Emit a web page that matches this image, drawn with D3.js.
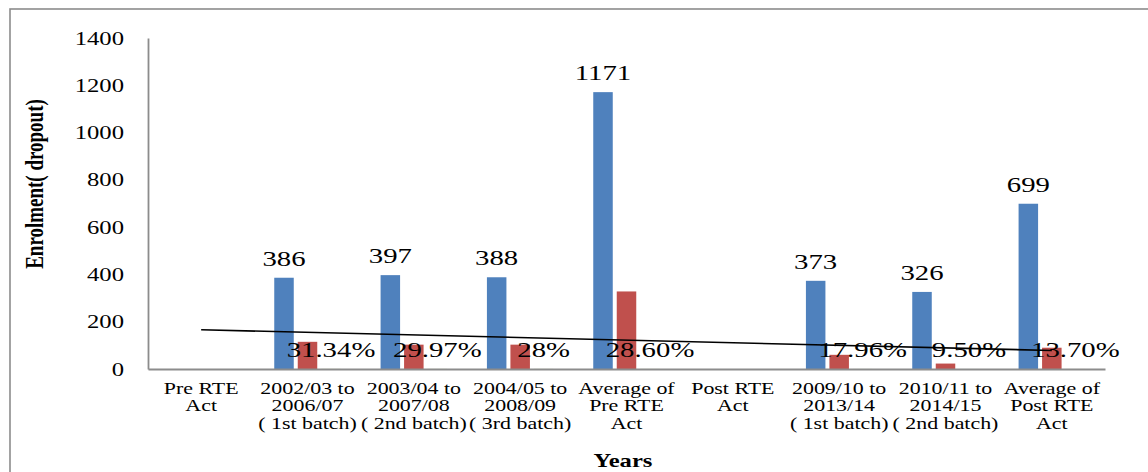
<!DOCTYPE html>
<html>
<head>
<meta charset="utf-8">
<script src="https://cdn.jsdelivr.net/npm/d3@7"></script>
<style>
  html, body { margin: 0; padding: 0; background: #fff; }
  svg { display: block; }
  svg text { font-family: "Liberation Serif", serif; }
</style>
</head>
<body>
<svg id="chart" width="1148" height="472"></svg>
<script>
// Categories along the x axis (line breaks split the label rows)
const categories = [
  "Pre RTE\nAct",
  "2002/03 to\n2006/07\n( 1st batch)",
  "2003/04 to\n2007/08\n( 2nd batch)",
  "2004/05 to\n2008/09\n( 3rd batch)",
  "Average of\nPre RTE\nAct",
  "Post RTE\nAct",
  "2009/10 to\n2013/14\n( 1st batch)",
  "2010/11 to\n2014/15\n( 2nd batch)",
  "Average of\nPost RTE\nAct"
];
// Enrolment per batch
const enrolment = [null, 386, 397, 388, 1171, null, 373, 326, 699];
// Dropout per batch
const dropout = [null, 115, 103, 103, 328, null, 60, 23, 90];
// Dropout rate, as printed
const dropoutRate = [null, "31.34%", "29.97%", "28%", "28.60%", null, "17.96%", "9.50%", "13.70%"];
// Y axis ticks
const yTicks = [0, 200, 400, 600, 800, 1000, 1200, 1400];

const colors = { enrolment: "#4F81BD", dropout: "#C0504D", rate: "#9BBB59" };
const SX = 1.37; // horizontal text stretch
const serif = "Liberation Serif, serif";

const svg = d3.select("#chart");

// Outer frame
svg.append("rect")
  .attr("x", 10).attr("y", 9)
  .attr("width", 1200).attr("height", 600)
  .attr("fill", "none").attr("stroke", "#8c8c8c").attr("stroke-width", 1.6);

const plot = { left: 148, right: 1105, top: 38, bottom: 369 };

const x = d3.scaleBand()
  .domain(d3.range(categories.length))
  .range([plot.left, plot.right])
  .padding(0);

const groupWidth = 66.5;
const xs = d3.scaleBand()
  .domain([0, 1, 2])
  .range([-groupWidth / 2, groupWidth / 2])
  .paddingInner(0.17);

const y = d3.scaleLinear().domain([0, 1400]).range([plot.bottom, plot.top]);

// Y axis
const yAxis = svg.append("g")
  .attr("transform", `translate(${plot.left},0)`)
  .call(d3.axisLeft(y).tickValues(yTicks).tickFormat(d3.format("d"))
    .tickSize(0).tickSizeOuter(0).tickPadding(0));
yAxis.attr("font-family", null);
yAxis.select(".domain").attr("stroke", "#8c8c8c").attr("stroke-width", 1.8);
yAxis.selectAll(".tick text")
  .attr("x", 0).attr("dy", null)
  .attr("transform", `translate(-24,6) scale(${SX},1)`)
  .style("font-family", serif).attr("font-size", 18).attr("fill", "#000");

// Bars: enrolment, dropout, dropout rate
const seriesList = [
  { vals: enrolment, col: colors.enrolment },
  { vals: dropout, col: colors.dropout },
  { vals: dropoutRate.map(s => s === null ? null : parseFloat(s) / 100), col: colors.rate }
];
seriesList.forEach((s, si) => {
  svg.append("g").selectAll("rect")
    .data(s.vals.map((v, i) => ({ v, i })).filter(d => d.v !== null))
    .join("rect")
    .attr("x", d => x(d.i) + x.bandwidth() / 2 + xs(si))
    .attr("width", xs.bandwidth())
    .attr("y", d => y(d.v))
    .attr("height", d => y(0) - y(d.v))
    .attr("fill", s.col);
});

// X axis
const xAxis = svg.append("g")
  .attr("transform", `translate(0,${plot.bottom})`)
  .call(d3.axisBottom(x).tickSize(0).tickSizeOuter(0).tickFormat(""));
xAxis.select(".domain").attr("stroke", "#8c8c8c").attr("stroke-width", 1.8);

// Category labels
const catG = svg.append("g");
categories.forEach((c, i) => {
  const t = catG.append("text")
    .attr("transform", `translate(${x(i) + x.bandwidth() / 2},394) scale(${SX},1)`)
    .attr("text-anchor", "middle")
    .style("font-family", serif).attr("font-size", 16).attr("fill", "#000");
  c.split("\n").forEach((line, li) => {
    t.append("tspan").attr("x", 0).attr("y", li * 17.5).text(line);
  });
});

// Value labels over enrolment bars
enrolment.forEach((v, i) => {
  if (v === null) return;
  svg.append("text")
    .attr("transform", `translate(${x(i) + x.bandwidth() / 2 + xs(0) + xs.bandwidth() / 2},${y(v) - 12}) scale(${SX},1)`)
    .attr("text-anchor", "middle")
    .style("font-family", serif).attr("font-size", 21).attr("fill", "#000")
    .text(d3.format("d")(v));
});

// Dropout rate labels
seriesList[2].vals.forEach((v, i) => {
  if (v === null) return;
  svg.append("text")
    .attr("transform", `translate(${x(i) + x.bandwidth() / 2 + xs(2) + xs.bandwidth() / 2},${y(v) - 12}) scale(${SX},1)`)
    .attr("text-anchor", "middle")
    .style("font-family", serif).attr("font-size", 21).attr("fill", "#000")
    .text(dropoutRate[i]);
});

// Linear trend of dropout (least squares over the category positions)
const pts = dropout.map((v, i) => ({ xi: i + 1, v })).filter(d => d.v !== null);
const mx = d3.mean(pts, d => d.xi), my = d3.mean(pts, d => d.v);
const slope = d3.sum(pts, d => (d.xi - mx) * (d.v - my)) / d3.sum(pts, d => (d.xi - mx) ** 2);
const icpt = my - slope * mx;
const n = categories.length;
svg.append("line")
  .attr("x1", x(0) + x.bandwidth() / 2).attr("y1", y(icpt + slope * 1))
  .attr("x2", x(n - 1) + x.bandwidth() / 2).attr("y2", y(icpt + slope * n))
  .attr("stroke", "#000").attr("stroke-width", 1.6);

// Axis titles
svg.append("text")
  .attr("transform", `translate(623,467) scale(${SX},1)`)
  .attr("text-anchor", "middle")
  .style("font-family", serif).attr("font-size", 18).attr("font-weight", "bold").attr("fill", "#000")
  .text("Years");

svg.append("text")
  .attr("transform", `translate(43,184) scale(${SX},1) rotate(-90)`)
  .attr("text-anchor", "middle")
  .style("font-family", serif).attr("font-size", 19).attr("font-weight", "bold").attr("fill", "#000")
  .text("Enrolment( dropout)");
</script>
</body>
</html>
